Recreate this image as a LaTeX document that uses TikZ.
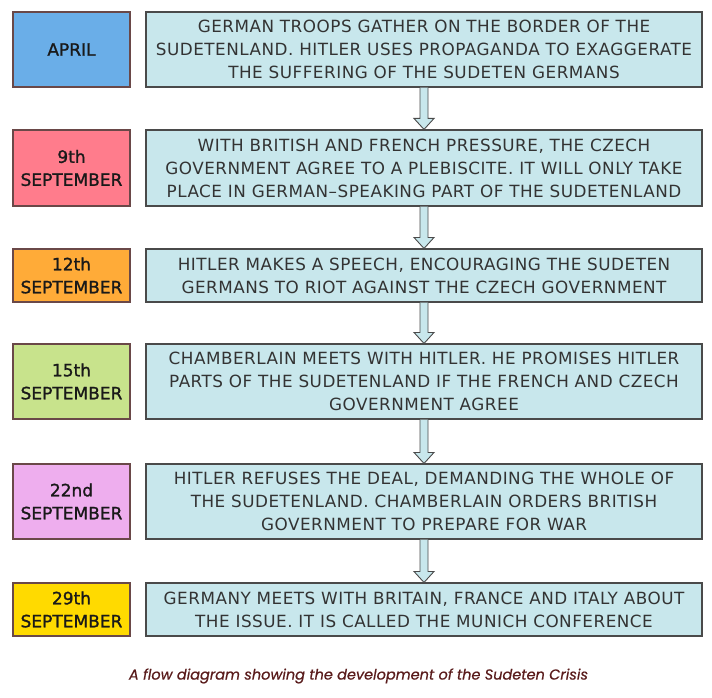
\documentclass[tikz,border=0pt]{standalone}
\usepackage{fontspec}
\setmainfont{DejaVu Sans}[LetterSpace=3]
\newfontfamily\datefont{DejaVu Sans}[FakeBold=1.2]
\newfontfamily\capfont{Poppins}[ItalicFeatures={FakeBold=0.6}]
\usetikzlibrary{calc}
\definecolor{aprilc}{HTML}{6AAEE8}
\definecolor{ninec}{HTML}{FF7C8C}
\definecolor{twelvec}{HTML}{FFAB38}
\definecolor{fifteenc}{HTML}{C8E38C}
\definecolor{twentytwoc}{HTML}{EEAEEE}
\definecolor{twentyninec}{HTML}{FFDA00}
\definecolor{eventc}{HTML}{C8E7EC}
\definecolor{linec}{HTML}{4A4A4A}
\definecolor{datelinec}{HTML}{6A4848}
\definecolor{capc}{HTML}{5A1C1C}
\tikzset{
  datebox/.style={draw=datelinec, line width=1.1pt, minimum width=117pt, inner sep=0pt,
    align=center, font=\datefont\fontsize{17}{23}\selectfont, text=black!90},
  eventbox/.style={draw=linec, line width=1.1pt, fill=eventc, minimum width=556pt, inner sep=0pt,
    align=center, font=\fontsize{16.8}{23}\selectfont, text=black!80},
  arrowshape/.style={draw=linec, line width=0.9pt, fill=eventc, line join=miter}
}
\newcommand\blockarr[2]{%
  \path let \p1=(#1.south), \p2=(#2.north) in
    [arrowshape] (\x1-4pt,\y1) -- (\x1-4pt,\y2+11pt) -- (\x1-10pt,\y2+11pt)
    -- (\x1,\y2) -- (\x1+10pt,\y2+11pt) -- (\x1+4pt,\y2+11pt) -- (\x1+4pt,\y1);%
}
\begin{document}
\begin{tikzpicture}[x=1pt,y=-1pt]
\useasboundingbox (0,0) rectangle (712,698);
\fill[white] (0,0) rectangle (712,698);

\node[datebox, fill=aprilc, minimum height=75pt] (d1) at (71.5,49.5) {APRIL};
\node[eventbox, minimum height=75pt] (e1) at (424,49.5) {GERMAN TROOPS GATHER ON THE BORDER OF THE\\SUDETENLAND. HITLER USES PROPAGANDA TO EXAGGERATE\\THE SUFFERING OF THE SUDETEN GERMANS};

\node[datebox, fill=ninec, minimum height=76pt] (d2) at (71.5,168) {9th\\SEPTEMBER};
\node[eventbox, minimum height=76pt] (e2) at (424,168) {WITH BRITISH AND FRENCH PRESSURE, THE CZECH\\GOVERNMENT AGREE TO A PLEBISCITE. IT WILL ONLY TAKE\\PLACE IN GERMAN--SPEAKING PART OF THE SUDETENLAND};

\node[datebox, fill=twelvec, minimum height=53pt] (d3) at (71.5,275.5) {12th\\SEPTEMBER};
\node[eventbox, minimum height=53pt] (e3) at (424,275.5) {HITLER MAKES A SPEECH, ENCOURAGING THE SUDETEN\\GERMANS TO RIOT AGAINST THE CZECH GOVERNMENT};

\node[datebox, fill=fifteenc, minimum height=75pt] (d4) at (71.5,381.5) {15th\\SEPTEMBER};
\node[eventbox, minimum height=75pt] (e4) at (424,381.5) {CHAMBERLAIN MEETS WITH HITLER. HE PROMISES HITLER\\PARTS OF THE SUDETENLAND IF THE FRENCH AND CZECH\\GOVERNMENT AGREE};

\node[datebox, fill=twentytwoc, minimum height=75pt] (d5) at (71.5,501.5) {22nd\\SEPTEMBER};
\node[eventbox, minimum height=75pt] (e5) at (424,501.5) {HITLER REFUSES THE DEAL, DEMANDING THE WHOLE OF\\THE SUDETENLAND. CHAMBERLAIN ORDERS BRITISH\\GOVERNMENT TO PREPARE FOR WAR};

\node[datebox, fill=twentyninec, minimum height=53pt] (d6) at (71.5,609.5) {29th\\SEPTEMBER};
\node[eventbox, minimum height=53pt] (e6) at (424,609.5) {GERMANY MEETS WITH BRITAIN, FRANCE AND ITALY ABOUT\\THE ISSUE. IT IS CALLED THE MUNICH CONFERENCE};

\blockarr{e1}{e2}
\blockarr{e2}{e3}
\blockarr{e3}{e4}
\blockarr{e4}{e5}
\blockarr{e5}{e6}

\node[font=\capfont\itshape\fontsize{14.5}{17}\selectfont, text=capc] (cap) at (358.5,676) {A flow diagram showing the development of the Sudeten Crisis};
\end{tikzpicture}
\end{document}
